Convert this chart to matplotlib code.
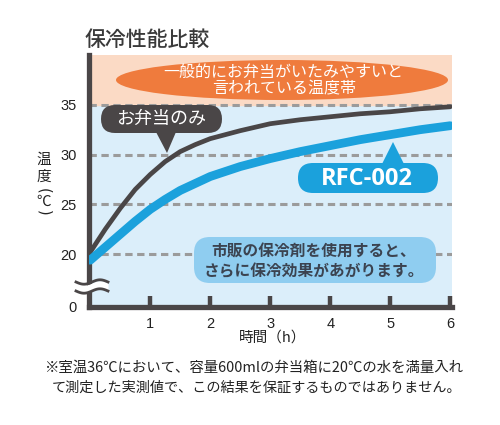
import numpy as np
import matplotlib
matplotlib.use('Agg')
import matplotlib.pyplot as plt
from matplotlib.patches import FancyBboxPatch, Polygon, Ellipse

plt.rcParams['font.family'] = ['Noto Sans CJK JP', 'DejaVu Sans']

# data
hours = [0, 0.25, 0.5, 0.75, 1, 1.25, 1.5, 1.75, 2, 2.5, 3, 3.5, 4, 4.5, 5, 5.5, 6]
bento_only = [20.2, 22.5, 24.6, 26.5, 28.0, 29.3, 30.3, 31.0, 31.6, 32.4, 33.1,
              33.5, 33.8, 34.1, 34.3, 34.6, 34.8]
rfc002 = [19.4, 20.7, 22.0, 23.3, 24.5, 25.5, 26.4, 27.1, 27.8, 28.8, 29.6,
          30.3, 30.9, 31.5, 32.0, 32.5, 32.9]
y_ticks = [20, 25, 30, 35]
x_ticks = [1, 2, 3, 4, 5, 6]
danger_band = (35, 40)

DARK = '#4a4647'
BLUE = '#1ba1dc'
ORANGE = '#ef7b3d'

fig = plt.figure(figsize=(5, 4.25), dpi=100)
W, H = 500, 425
ybot = 14.7
ax = fig.add_axes([89/W, 1-307/H, (452-89)/W, (307-55)/H])
ax.set_xlim(-0.02, 6.03)
ax.set_ylim(ybot, 40)
ax.set_facecolor('#dbeefa')
ax.axhspan(danger_band[0], danger_band[1], color='#fbdac5', zorder=0)
for t in y_ticks:
    ax.axhline(t, color='#9b9b9b', lw=2.2, ls=(0, (2.4, 1.5)), zorder=1)

ax.plot(hours, bento_only, color=DARK, lw=3.4, solid_capstyle='round',
        solid_joinstyle='round', zorder=3)
ax.plot(hours, rfc002, color=BLUE, lw=6.3, solid_capstyle='round',
        solid_joinstyle='round', zorder=3)

for s in ['top', 'right']:
    ax.spines[s].set_visible(False)
for s in ['left', 'bottom']:
    ax.spines[s].set_color(DARK)
    ax.spines[s].set_linewidth(3.8)
ax.set_xticks(x_ticks)
ax.set_xticklabels([str(v) for v in x_ticks])
ax.set_yticks([ybot] + y_ticks)
ax.set_yticklabels(['0'] + [str(v) for v in y_ticks])
ax.tick_params(axis='x', direction='in', length=8, width=3.2, color=DARK, pad=7,
               labelsize=10.5, labelcolor='#222222')
ax.tick_params(axis='y', length=0, pad=9, labelsize=10.5, labelcolor='#222222')
for lab in ax.get_xticklabels() + ax.get_yticklabels():
    lab.set_fontfamily(['Liberation Sans', 'DejaVu Sans'])

# overlay in pixel coordinates for the decorations
ov = fig.add_axes([0, 0, 1, 1])
ov.set_xlim(0, W)
ov.set_ylim(H, 0)
ov.axis('off')
ov.patch.set_alpha(0)

ov.text(85, 40, '保冷性能比較', fontsize=15, color='#3a3a3a', ha='left', va='center',
        fontweight='medium')

# danger zone label
ov.add_patch(Ellipse((282, 80), 332, 40, color=ORANGE, lw=0))
ov.text(283, 72, '一般的にお弁当がいたみやすいと', fontsize=11.5, color='white',
        ha='center', va='center')
ov.text(284, 89, '言われている温度帯', fontsize=11.5, color='white',
        ha='center', va='center')

# callout: bento only
ov.add_patch(FancyBboxPatch((101, 105), 121, 28,
                            boxstyle='round,pad=0,rounding_size=14', fc=DARK, ec='none'))
ov.add_patch(Polygon([[156, 132], [176, 132], [167, 153]], closed=True, fc=DARK, ec='none'))
ov.text(161, 119, 'お弁当のみ', fontsize=13, color='white', ha='center', va='center')

# callout: RFC-002
ov.add_patch(FancyBboxPatch((298, 163), 140, 30,
                            boxstyle='round,pad=0,rounding_size=15', fc=BLUE, ec='none'))
ov.add_patch(Polygon([[382, 164], [404, 164], [393, 142]], closed=True, fc=BLUE, ec='none'))
ov.text(367, 179, 'RFC-002', fontsize=17, color='white', ha='center', va='center',
        fontweight='bold', family=['Open Sans', 'DejaVu Sans'])

# note box
ov.add_patch(FancyBboxPatch((194, 237), 242, 46,
                            boxstyle='round,pad=0,rounding_size=16', fc='#8fcdf0', ec='none'))
ov.text(314, 252, '市販の保冷剤を使用すると、', fontsize=11.3, color='#3b4350',
        ha='center', va='center', fontweight='bold')
ov.text(314, 271, 'さらに保冷効果があがります。', fontsize=11.3, color='#3b4350',
        ha='center', va='center', fontweight='bold')

# axis break on the y axis
xs = np.linspace(76, 108, 60)
wave = 2.2 * np.sin((xs - 76) / 32 * 2 * np.pi)
ov.fill_between(xs, 283 + wave, 290 + wave, color='white', lw=0)
ov.plot(xs, 282 + wave, color=DARK, lw=2)
ov.plot(xs, 291 + wave, color=DARK, lw=2)

# y axis label, stacked vertically
ov.text(44, 160, '温', fontsize=10.5, color='#222222', ha='center', va='center')
ov.text(44, 177, '度', fontsize=10.5, color='#222222', ha='center', va='center')
ov.text(44, 191, '(', fontsize=10.5, color='#222222', ha='center', va='center',
        rotation=-90, family=['DejaVu Sans'])
ov.text(44, 202, '℃', fontsize=10.5, color='#222222', ha='center', va='center')
ov.text(44, 213, ')', fontsize=10.5, color='#222222', ha='center', va='center',
        rotation=-90, family=['DejaVu Sans'])

ov.text(273, 338, '時間（h）', fontsize=10.5, color='#222222', ha='center', va='center')

ov.text(254, 368, '※室温36℃において、容量600mlの弁当箱に20℃の水を満量入れ',
        fontsize=10.4, color='#222222', ha='center', va='center')
ov.text(257, 388, 'て測定した実測値で、この結果を保証するものではありません。',
        fontsize=10.2, color='#222222', ha='center', va='center')

fig.savefig('out.png', dpi=100)
